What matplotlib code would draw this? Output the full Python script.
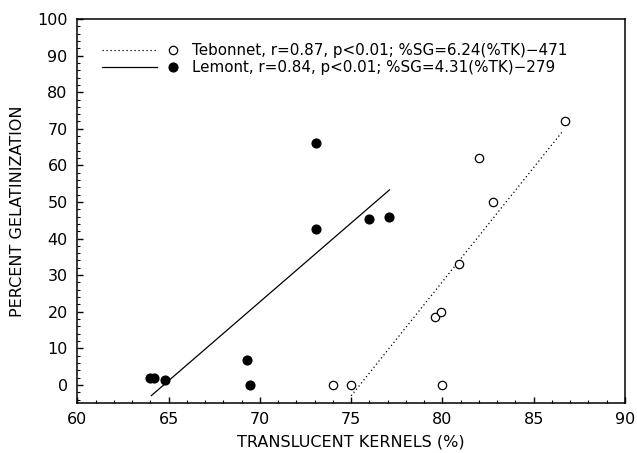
import matplotlib
matplotlib.use("Agg")
import matplotlib.pyplot as plt
from matplotlib.legend_handler import HandlerTuple
from matplotlib.ticker import MultipleLocator

# Tebonnet (open circles)
teb_tk = [74.0, 75.0, 80.0, 79.6, 79.9, 80.9, 82.8, 82.0, 86.7]
teb_sg = [0.0, 0.0, 0.0, 18.5, 20.0, 33.0, 50.0, 62.0, 72.0]
teb_fit = (6.24, -471.0)
teb_range = [75.0, 86.6]

# Lemont (filled circles)
lem_tk = [64.0, 64.2, 64.8, 69.3, 69.45, 73.1, 73.1, 76.0, 77.1]
lem_sg = [2.0, 2.0, 1.3, 6.8, 0.0, 42.5, 66.0, 45.3, 46.0]
lem_fit = (4.31, -279.0)
lem_range = [64.05, 77.1]

labels = [
    "Tebonnet, r=0.87, p<0.01; %SG=6.24(%TK)\u2212471",
    "Lemont, r=0.84, p<0.01; %SG=4.31(%TK)\u2212279",
]


def fit_line(xs, coef):
    return [coef[0] * x + coef[1] for x in xs]


plt.rcParams["font.family"] = "DejaVu Sans"
fig = plt.figure(figsize=(6.37, 4.53), dpi=100)
ax = fig.add_axes([0.1215, 0.110, 0.8595, 0.848])

teb_line, = ax.plot(teb_range, fit_line(teb_range, teb_fit), ls=(0, (1, 2.2)),
                    color="black", lw=0.9)
lem_line, = ax.plot(lem_range, fit_line(lem_range, lem_fit), ls="-",
                    color="black", lw=0.9)
teb_pts, = ax.plot(teb_tk, teb_sg, ls="none", marker="o", ms=6,
                   mfc="white", mec="black", mew=0.9)
lem_pts, = ax.plot(lem_tk, lem_sg, ls="none", marker="o", ms=6.3,
                   mfc="black", mec="black")

ax.set_xlim(60, 90)
ax.set_ylim(-5, 100)
ax.xaxis.set_major_locator(MultipleLocator(5))
ax.xaxis.set_minor_locator(MultipleLocator(1))
ax.yaxis.set_major_locator(MultipleLocator(10))
ax.yaxis.set_minor_locator(MultipleLocator(2))
ax.tick_params(which="both", direction="in", top=False, right=False,
               labelsize=11.5)
ax.tick_params(axis="x", which="major", length=4.5, width=1, pad=6)
ax.tick_params(axis="y", which="major", length=4.5, width=1, pad=7)
ax.tick_params(which="minor", length=2.5, width=0.8)
for sp in ax.spines.values():
    sp.set_linewidth(1.1)

ax.set_xlabel("TRANSLUCENT KERNELS (%)", fontsize=11.5, labelpad=6)
ax.set_ylabel("PERCENT GELATINIZATION", fontsize=11.5, labelpad=9)

ax.legend(
    [(teb_line, teb_pts), (lem_line, lem_pts)], labels,
    handler_map={tuple: HandlerTuple(ndivide=None, pad=-0.76)},
    loc="upper left", bbox_to_anchor=(0.045, 0.937), borderaxespad=0,
    borderpad=0, frameon=False, fontsize=10.9, handlelength=6.5,
    handletextpad=-0.53, labelspacing=0.15,
)

fig.savefig("out.png", dpi=100)
